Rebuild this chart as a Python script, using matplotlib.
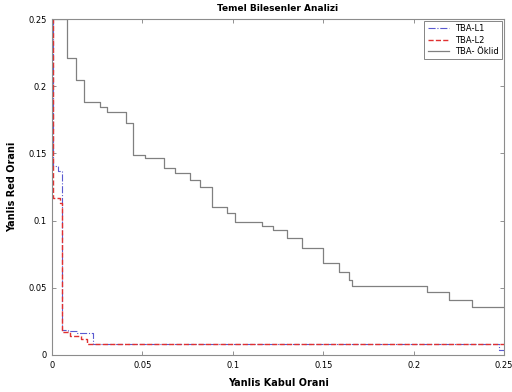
import matplotlib
matplotlib.use('Agg')
import matplotlib.pyplot as plt

# step curves (false accept rate vs false reject rate)
l1_x = [0, 0.0003, 0.0033, 0.0055, 0.0088, 0.0138, 0.0225, 0.2475, 0.25]
l1_y = [0.25, 0.141, 0.137, 0.0185, 0.0175, 0.0165, 0.008, 0.004, 0.004]

l2_x = [0, 0.0003, 0.0045, 0.0053, 0.0098, 0.016, 0.0195, 0.25]
l2_y = [0.25, 0.117, 0.113, 0.017, 0.0145, 0.012, 0.0085, 0.0085]

mod_x = [0, 0.0083, 0.0132, 0.0177, 0.0265, 0.0304, 0.0408, 0.0447, 0.0513,
         0.0618, 0.0679, 0.0762, 0.0817, 0.0883, 0.0966, 0.101, 0.1164, 0.122,
         0.1297, 0.138, 0.150, 0.159, 0.1645, 0.166, 0.2075, 0.2196, 0.2323, 0.25]
mod_y = [0.25, 0.221, 0.2046, 0.188, 0.1845, 0.181, 0.1726, 0.149, 0.1466,
         0.139, 0.1354, 0.130, 0.125, 0.110, 0.106, 0.099, 0.096, 0.093,
         0.087, 0.0796, 0.0685, 0.0618, 0.0558, 0.051, 0.047, 0.041, 0.0357, 0.0357]

ticks = [0, 0.05, 0.1, 0.15, 0.2, 0.25]
tick_labels = ['0', '0.05', '0.1', '0.15', '0.2', '0.25']

fig = plt.figure(figsize=(5.12, 3.92), dpi=100)
ax = fig.add_axes([0.1016, 0.0944, 0.8828, 0.8571])

ax.plot(l1_x, l1_y, drawstyle='steps-post', color='#5a5ad0', lw=0.8, ls='-.', label='TBA-L1')
ax.plot(l2_x, l2_y, drawstyle='steps-post', color='#e03030', lw=1.0, ls='--', label='TBA-L2')
ax.plot(mod_x, mod_y, drawstyle='steps-post', color='0.5', lw=0.9, label='TBA- Öklid')

ax.set_xlim(0, 0.25)
ax.set_ylim(0, 0.25)
ax.set_xticks(ticks)
ax.set_xticklabels(tick_labels)
ax.set_yticks(ticks)
ax.set_yticklabels(tick_labels)
ax.tick_params(direction='in', top=True, right=True, labelsize=6, length=3, width=0.6,
               color='0.5', pad=4)
for s in ax.spines.values():
    s.set_color('0.55')
    s.set_linewidth(0.8)

ax.set_title('Temel Bilesenler Analizi', fontsize=6.5, fontweight='bold', pad=6)
ax.set_xlabel('Yanlis Kabul Orani', fontsize=7, fontweight='bold', labelpad=6)
ax.set_ylabel('Yanlis Red Orani', fontsize=7, fontweight='bold', labelpad=8)

leg = ax.legend(loc='upper right', fontsize=6, frameon=True, fancybox=False,
                edgecolor='0.4', borderaxespad=0.2, handlelength=2.5, labelspacing=0.3,
                borderpad=0.4)
leg.get_frame().set_linewidth(0.7)

fig.savefig('out.png', dpi=100)
